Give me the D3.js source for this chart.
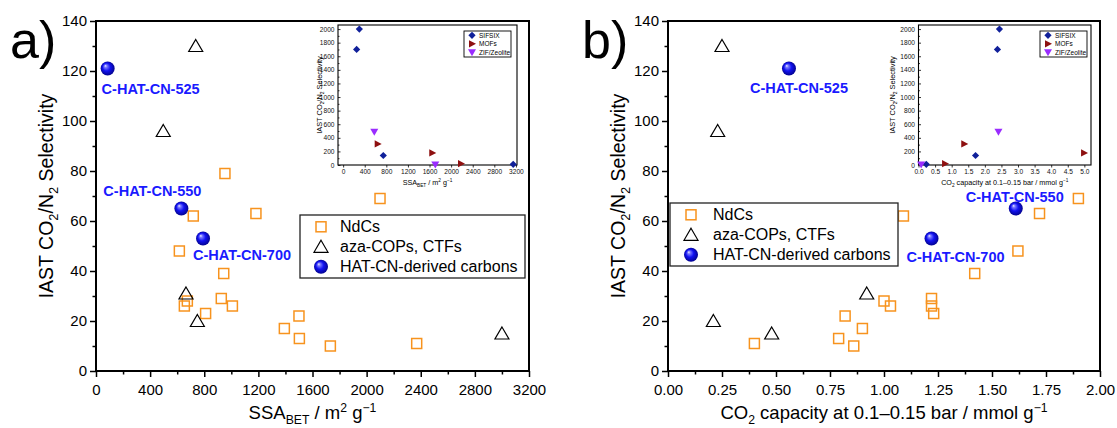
<!DOCTYPE html>
<html>
<head>
<meta charset="utf-8">
<script src="https://cdn.jsdelivr.net/npm/d3@7"></script>
<style>
body{margin:0;background:#fff;}
svg{display:block;font-family:"Liberation Sans",Arial,sans-serif;}
</style>
</head>
<body>
<svg id="chart" width="1117" height="428"></svg>
<script>
// ---- data ----
// panel a: selectivity vs SSA_BET
var ndcSSA = [953, 719, 1182, 616, 2099, 944, 675, 653, 926, 1008, 810, 1500, 1392, 1503, 1732, 2370];
var ndcSel = [79, 62, 63, 48, 69, 39, 28, 26, 29, 26, 23, 22, 17, 13, 10, 11];
var azaSSA = [737, 497, 665, 749, 3000];
var azaSel = [130, 96, 31, 20, 15];
var hatNames = ["C-HAT-CN-525", "C-HAT-CN-550", "C-HAT-CN-700"];
var hatSSA = [86, 631, 791];
var hatSel = [121, 65, 53];

// panel b: selectivity vs CO2 capacity
var ndcCap = [1.90, 1.72, 1.09, 1.62, 1.42, 1.00, 1.03, 1.22, 1.22, 1.23, 0.82, 0.90, 0.79, 0.40, 0.86];
var ndcCapSel = [69, 63, 62, 48, 39, 28, 26, 29, 26, 23, 22, 17, 13, 11, 10];
var azaCap = [0.25, 0.23, 0.92, 0.21, 0.48];
var azaCapSel = [130, 96, 31, 20, 15];
var hatCap = [0.56, 1.61, 1.22];
var hatCapSel = [121, 65, 53];

// insets
var sifSSA = [300, 250, 744, 3150];
var sifSel = [2000, 1700, 140, 10];
var mofSSA = [640, 1651, 2183];
var mofSel = [310, 177, 20];
var zifSSA = [577, 1707];
var zifSel = [490, 8];
var sifCap = [2.44, 2.38, 1.72, 0.235];
var mofCap = [1.38, 4.99, 0.80];
var zifCap = [2.41, 0.08];

var legendNames = ["NdCs", "aza-COPs, CTFs", "HAT-CN-derived carbons"];
var insetNames = ["SIFSIX", "MOFs", "ZIF/Zeolite"];

var selTicks = d3.range(0, 141, 20);
var selMinor = d3.range(10, 140, 20);
var ssaTicks = d3.range(0, 3201, 400);
var ssaMinor = d3.range(200, 3200, 400);
var capTicks = d3.range(0, 9).map(function(i){return i*0.25});
var capMinor = d3.range(0, 8).map(function(i){return i*0.25 + 0.125});
var insSelTicks = d3.range(0, 2001, 200);
var insSsaTicks = d3.range(0, 3201, 400);
var insCapTicks = d3.range(0, 11).map(function(i){return i*0.5});

(function(){

	var svg = d3.select("#chart");
	var ORANGE = "#f7931e";
	var LABEL = "#1a1aff";

	var defs = svg.append("defs");
	var grad = defs.append("radialGradient").attr("id", "ball")
		.attr("cx", "50%").attr("cy", "50%").attr("r", "55%")
		.attr("fx", "33%").attr("fy", "30%");
	[[0, "#f0f0ff"], [0.18, "#7a7aff"], [0.5, "#1212f2"], [1, "#000080"]].forEach(function(s){
		grad.append("stop").attr("offset", s[0]).attr("stop-color", s[1]);
	});

	var triPath = "M0,-6.5L7,5.5L-7,5.5Z";
	var diaPath = "M0,-3.6L3.6,0L0,3.6L-3.6,0Z";
	var rightPath = "M-3,-3.6L4,0L-3,3.6Z";
	var downPath = "M-4,-3L4,-3L0,4Z";

	// text with sub/superscript parts
	var rich = function(sel, parts, size){
		var shift = 0;
		parts.forEach(function(p){
			var target = p[1] === "sub" ? size*0.28 : (p[1] === "sup" ? -size*0.38 : 0);
			var t = sel.append("tspan").text(p[0]).attr("dy", target - shift);
			if(p[1]){ t.attr("font-size", size*0.66); }
			shift = target;
		});
	};

	var square = function(g, px, py){
		g.append("rect").attr("x", px-5).attr("y", py-5).attr("width", 10).attr("height", 10)
			.attr("fill", "none").attr("stroke", ORANGE).attr("stroke-width", 1.5);
	};
	var triangle = function(g, px, py){
		g.append("path").attr("d", triPath).attr("transform", "translate("+px+","+py+")")
			.attr("fill", "none").attr("stroke", "#000").attr("stroke-width", 1.2);
	};
	var ball = function(g, px, py){
		g.append("circle").attr("cx", px).attr("cy", py).attr("r", 7).attr("fill", "url(#ball)");
	};

	var drawPanel = function(cfg){
		var g = svg.append("g");
		var x = d3.scaleLinear().domain(cfg.xDomain).range([cfg.left, cfg.right]);
		var y = d3.scaleLinear().domain([0, 140]).range([cfg.bottom, cfg.top]);

		// minor ticks
		var xm = g.append("g").attr("transform", "translate(0,"+cfg.bottom+")")
			.call(d3.axisBottom(x).tickValues(cfg.xMinor).tickSize(3.5).tickFormat(""));
		var ym = g.append("g").attr("transform", "translate("+cfg.left+",0)")
			.call(d3.axisLeft(y).tickValues(selMinor).tickSize(3.5).tickFormat(""));
		// major ticks
		var xa = g.append("g").attr("transform", "translate(0,"+cfg.bottom+")")
			.call(d3.axisBottom(x).tickValues(cfg.xTicks).tickSize(6).tickPadding(7).tickFormat(cfg.xFmt));
		var ya = g.append("g").attr("transform", "translate("+cfg.left+",0)")
			.call(d3.axisLeft(y).tickValues(selTicks).tickSize(6).tickPadding(3).tickFormat(d3.format("d")));
		[xm, ym, xa, ya].forEach(function(a){
			a.select(".domain").remove();
			a.selectAll("line").attr("stroke", "#000").attr("stroke-width", 1.5);
			a.selectAll("text").attr("font-size", 15).attr("fill", "#000")
				.attr("font-family", "Liberation Sans, Arial, sans-serif");
		});

		g.append("rect").attr("x", cfg.left).attr("y", cfg.top)
			.attr("width", cfg.right - cfg.left).attr("height", cfg.bottom - cfg.top)
			.attr("fill", "none").attr("stroke", "#000").attr("stroke-width", 2);

		// titles
		var yt = g.append("text").attr("text-anchor", "middle").attr("font-size", 19.5)
			.attr("transform", "translate("+(cfg.left-43)+","+((cfg.top+cfg.bottom)/2)+") rotate(-90)");
		rich(yt, [["IAST CO"], ["2", "sub"], ["/N"], ["2", "sub"], [" Selectivity"]], 19.5);
		var xt = g.append("text").attr("text-anchor", "middle").attr("font-size", 18.5)
			.attr("x", (cfg.left+cfg.right)/2).attr("y", 419);
		rich(xt, cfg.xTitle, 18.5);

		g.append("text").attr("x", cfg.left-86).attr("y", 58).attr("font-size", 52).text(cfg.letter);

		// points
		var pts = g.append("g");
		cfg.ndcX.forEach(function(v, i){ square(pts, x(v), y(cfg.ndcY[i])); });
		cfg.azaX.forEach(function(v, i){ triangle(pts, x(v), y(cfg.azaY[i])); });
		cfg.hatX.forEach(function(v, i){
			ball(pts, x(v), y(cfg.hatY[i]));
			pts.append("text").attr("x", x(v) + cfg.labelOff[i][0]).attr("y", y(cfg.hatY[i]) + cfg.labelOff[i][1])
				.attr("text-anchor", "middle").attr("dominant-baseline", "central")
				.attr("font-size", 14.5).attr("font-weight", "bold").attr("fill", LABEL).text(hatNames[i]);
		});

		// legend
		var L = cfg.legend;
		var lg = g.append("g");
		lg.append("rect").attr("x", L.x).attr("y", L.y).attr("width", L.w).attr("height", 63)
			.attr("fill", "#fff").attr("stroke", "#222").attr("stroke-width", 1.3);
		var rows = [11.8, 31.8, 51.8];
		square(lg, L.x+21, L.y+rows[0]);
		triangle(lg, L.x+21, L.y+rows[1]);
		ball(lg, L.x+21, L.y+rows[2]);
		legendNames.forEach(function(n, i){
			lg.append("text").attr("x", L.x+L.tx).attr("y", L.y+rows[i]).attr("dominant-baseline", "central")
				.attr("font-size", 16).text(n);
		});
	};

	var drawInset = function(cfg){
		var g = svg.append("g");
		var x = d3.scaleLinear().domain(cfg.xDomain).range([cfg.left, cfg.right]);
		var y = d3.scaleLinear().domain([0, 2060]).range([cfg.bottom, cfg.top]);

		g.append("rect").attr("x", cfg.left).attr("y", cfg.top)
			.attr("width", cfg.right - cfg.left).attr("height", cfg.bottom - cfg.top)
			.attr("fill", "#fff");

		var xa = g.append("g").attr("transform", "translate(0,"+cfg.bottom+")")
			.call(d3.axisBottom(x).tickValues(cfg.xTicks).tickSize(2.5).tickPadding(2).tickFormat(cfg.xFmt));
		var ya = g.append("g").attr("transform", "translate("+cfg.left+",0)")
			.call(d3.axisLeft(y).tickValues(insSelTicks).tickSize(-2.5).tickPadding(3.5).tickFormat(d3.format("d")));
		var ym = g.append("g").attr("transform", "translate("+cfg.left+",0)")
			.call(d3.axisLeft(y).tickValues(insSelTicks.slice(0, -1).map(function(d){return d+100})).tickSize(-1.5).tickFormat(""));
		[xa, ya, ym].forEach(function(a){
			a.select(".domain").remove();
			a.selectAll("line").attr("stroke", "#000").attr("stroke-width", 0.8);
			a.selectAll("text").attr("font-size", 6.6).attr("fill", "#111")
				.attr("font-family", "Liberation Sans, Arial, sans-serif");
		});

		g.append("rect").attr("x", cfg.left).attr("y", cfg.top)
			.attr("width", cfg.right - cfg.left).attr("height", cfg.bottom - cfg.top)
			.attr("fill", "none").attr("stroke", "#000").attr("stroke-width", 1.1);

		var yt = g.append("text").attr("text-anchor", "middle").attr("font-size", 7.4)
			.attr("transform", "translate("+cfg.yTitleX+","+((cfg.top+cfg.bottom)/2)+") rotate(-90)");
		rich(yt, [["IAST CO"], ["2", "sub"], ["/N"], ["2", "sub"], [" Selectivity"]], 7.4);
		var xt = g.append("text").attr("text-anchor", "middle").attr("font-size", 7.2)
			.attr("x", (cfg.left+cfg.right)/2).attr("y", 185);
		rich(xt, cfg.xTitle, 7.2);

		var pts = g.append("g");
		var mark = function(xs, ys, path, col){
			xs.forEach(function(v, i){
				pts.append("path").attr("d", path).attr("transform", "translate("+x(v)+","+y(ys[i])+")")
					.attr("fill", col);
			});
		};
		mark(cfg.sifX, sifSel, diaPath, "#10209a");
		mark(cfg.mofX, mofSel, rightPath, "#8e1010");
		mark(cfg.zifX, zifSel, downPath, "#9a2cff");

		// inset legend
		var lx = cfg.legendX;
		var lg = g.append("g");
		lg.append("rect").attr("x", lx).attr("y", 31).attr("width", 47).attr("height", 26)
			.attr("fill", "#fff").attr("stroke", "#000").attr("stroke-width", 0.9);
		var rows = [35.3, 43.8, 52.3];
		var paths = [diaPath, rightPath, downPath];
		var cols = ["#10209a", "#8e1010", "#9a2cff"];
		insetNames.forEach(function(n, i){
			lg.append("path").attr("d", paths[i]).attr("transform", "translate("+(lx+8)+","+rows[i]+")").attr("fill", cols[i]);
			lg.append("text").attr("x", lx+15).attr("y", rows[i]).attr("dominant-baseline", "central")
				.attr("font-size", 6.5).text(n);
		});
	};

	drawPanel({
		letter: "a)", left: 96, right: 529, top: 21, bottom: 371,
		xDomain: [0, 3200], xTicks: ssaTicks, xMinor: ssaMinor, xFmt: d3.format("d"),
		xTitle: [["SSA"], ["BET", "sub"], [" / m"], ["2", "sup"], [" g"], ["\u22121", "sup"]],
		ndcX: ndcSSA, ndcY: ndcSel, azaX: azaSSA, azaY: azaSel, hatX: hatSSA, hatY: hatSel,
		labelOff: [[43, 20], [-29, -18], [39, 16]],
		legend: {x: 300, y: 215, w: 225, tx: 40}
	});

	drawPanel({
		letter: "b)", left: 668, right: 1100, top: 21, bottom: 371,
		xDomain: [0, 2], xTicks: capTicks, xMinor: capMinor, xFmt: d3.format(".2f"),
		xTitle: [["CO"], ["2", "sub"], [" capacity at 0.1\u20130.15 bar / mmol g"], ["\u22121", "sup"]],
		ndcX: ndcCap, ndcY: ndcCapSel, azaX: azaCap, azaY: azaCapSel, hatX: hatCap, hatY: hatCapSel,
		labelOff: [[10, 19], [-1, -12], [24, 18]],
		legend: {x: 670, y: 203, w: 228, tx: 43}
	});

	drawInset({
		left: 338, right: 517, top: 25, bottom: 165, yTitleX: 322,
		xDomain: [-95, 3220], xTicks: insSsaTicks, xFmt: d3.format("d"),
		xTitle: [["SSA"], ["BET", "sub"], [" / m"], ["2", "sup"], [" g"], ["\u22121", "sup"]],
		sifX: sifSSA, mofX: mofSSA, zifX: zifSSA, legendX: 464
	});

	drawInset({
		left: 918.5, right: 1091, top: 25, bottom: 165, yTitleX: 895,
		xDomain: [0, 5.2], xTicks: insCapTicks, xFmt: d3.format(".1f"),
		xTitle: [["CO"], ["2", "sub"], [" capacity at 0.1\u20130.15 bar / mmol g"], ["\u22121", "sup"]],
		sifX: sifCap, mofX: mofCap, zifX: zifCap, legendX: 1040
	});

})();
</script>
</body>
</html>
